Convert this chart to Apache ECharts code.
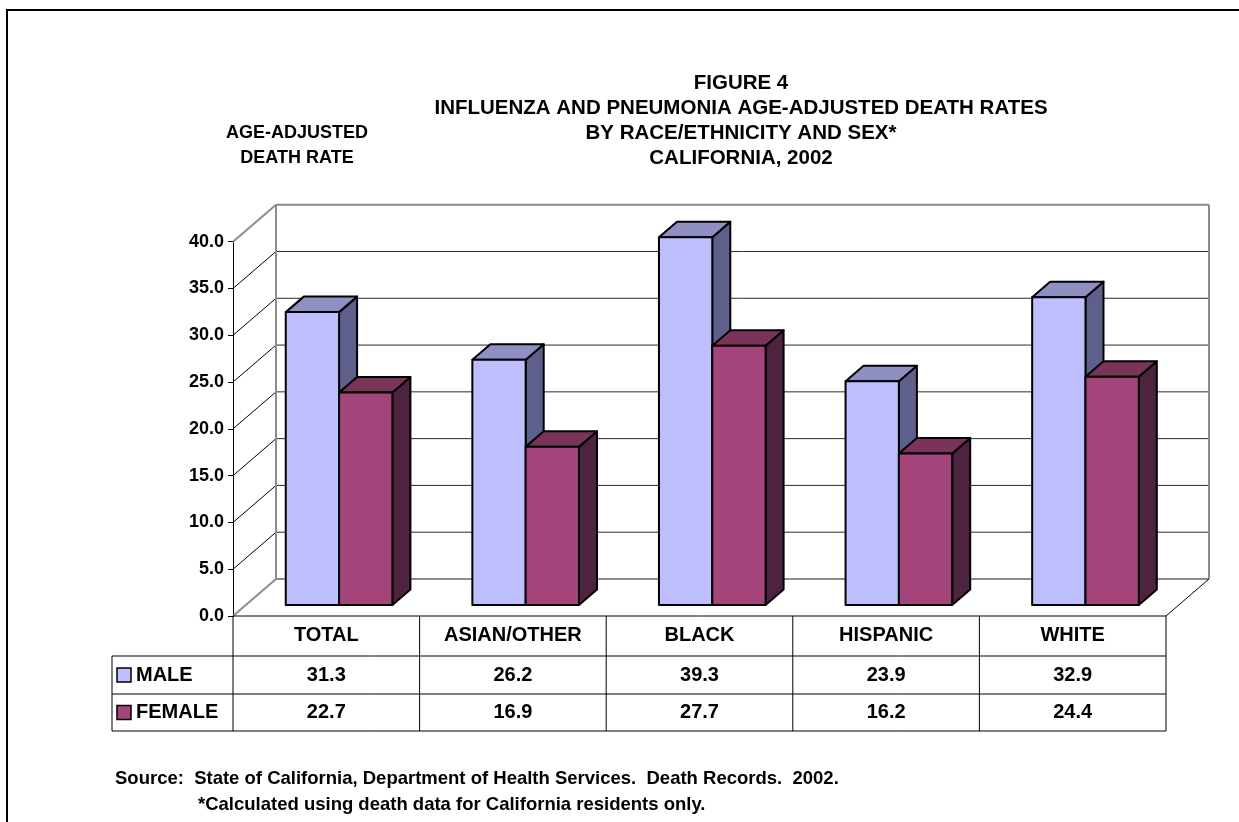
<!DOCTYPE html>
<html><head><meta charset="utf-8">
<script src="https://cdn.jsdelivr.net/npm/echarts@6/dist/echarts.min.js"></script>
<style>html,body{margin:0;padding:0;background:#fff}#c{width:1239px;height:822px}</style>
</head><body><div id="c"></div>
<script>
const categories = ['TOTAL', 'ASIAN/OTHER', 'BLACK', 'HISPANIC', 'WHITE'];
const maleValues = [31.3, 26.2, 39.3, 23.9, 32.9];
const femaleValues = [22.7, 16.9, 27.7, 16.2, 24.4];
const seriesNames = ['MALE', 'FEMALE'];
const yTicks = [0, 5, 10, 15, 20, 25, 30, 35, 40];
const titleLines = ['FIGURE 4', 'INFLUENZA AND PNEUMONIA AGE-ADJUSTED DEATH RATES', 'BY RACE/ETHNICITY AND SEX*', 'CALIFORNIA, 2002'];
const yAxisTitle = ['AGE-ADJUSTED', 'DEATH RATE'];
const sourceLines = ['Source:  State of California, Department of Health Services.  Death Records.  2002.', '*Calculated using death data for California residents only.'];

const FONT = '"Liberation Sans", Arial, sans-serif';
const DX = 43, DY = 37, D0 = 0.297, D1 = 0.716;
const MALE_C = {front: '#BFBFFF', top: '#8F8FC4', side: '#5F5F8C'};
const FEMALE_C = {front: '#A3457B', top: '#7B3459', side: '#4E2340'};

function wallsRender(params, api) {
  const cs = params.coordSys;
  const xL = cs.x, xR = cs.x + cs.width;
  const ch = [];
  const last = yTicks[yTicks.length - 1];
  yTicks.forEach(v => {
    const y = api.coord([0, v])[1];
    const edge = (v === 0 || v === last);
    ch.push({type: 'line', shape: {x1: xL, y1: y, x2: xL + DX, y2: y - DY},
      style: {stroke: edge ? '#8c8c8c' : '#000', lineWidth: edge ? 2 : 1}});
    ch.push({type: 'line', shape: {x1: xL + DX, y1: y - DY, x2: xR + DX, y2: y - DY},
      style: {stroke: edge ? '#8c8c8c' : '#2a2a2a', lineWidth: edge ? 2 : 1}});
  });
  const y0 = api.coord([0, 0])[1], yT = api.coord([0, last])[1];
  ch.push({type: 'line', shape: {x1: xL + DX, y1: y0 - DY, x2: xL + DX, y2: yT - DY}, style: {stroke: '#8c8c8c', lineWidth: 2}});
  ch.push({type: 'line', shape: {x1: xR + DX, y1: y0 - DY, x2: xR + DX, y2: yT - DY}, style: {stroke: '#8c8c8c', lineWidth: 2}});
  ch.push({type: 'line', shape: {x1: xR, y1: y0, x2: xR + DX, y2: y0 - DY}, style: {stroke: '#000', lineWidth: 1}});
  return {type: 'group', children: ch};
}

function barRender(isFemale, colors) {
  return function (params, api) {
    const i = api.value(0), v = api.value(1);
    const band = api.size([1, 0])[0];
    const w = band / 3.5;
    const base = api.coord([i, 0]);
    const top = api.coord([i, v]);
    const cx = base[0] + D0 * DX;
    const yb = base[1] - D0 * DY, yt = top[1] - D0 * DY;
    const xl = isFemale ? cx : cx - w, xr = xl + w;
    const ddx = (D1 - D0) * DX, ddy = (D1 - D0) * DY;
    const st = {stroke: '#000', lineWidth: 2, lineJoin: 'round'};
    return {type: 'group', children: [
      {type: 'polygon', shape: {points: [[xr, yt], [xr + ddx, yt - ddy], [xr + ddx, yb - ddy], [xr, yb]]}, style: Object.assign({fill: colors.side}, st)},
      {type: 'polygon', shape: {points: [[xl, yt], [xl + ddx, yt - ddy], [xr + ddx, yt - ddy], [xr, yt]]}, style: Object.assign({fill: colors.top}, st)},
      {type: 'rect', shape: {x: xl, y: yt, width: w, height: yb - yt}, style: Object.assign({fill: colors.front}, st)}
    ]};
  };
}

function txt(text, x, y, size, align) {
  return {type: 'text', style: {text: text, x: x, y: y, align: align || 'center', verticalAlign: 'middle',
    fontSize: size, fontWeight: 'bold', fontFamily: FONT, fill: '#000'}};
}
function ln(x1, y1, x2, y2) {
  return {type: 'line', shape: {x1: x1, y1: y1, x2: x2, y2: y2}, style: {stroke: '#000', lineWidth: 1}};
}

function tableRender(params, api) {
  const cs = params.coordSys;
  const xL = cs.x, xR = cs.x + cs.width;
  const i = api.value(0);
  const band = api.size([1, 0])[0];
  const c = api.coord([i, 0]);
  const y0 = c[1];
  const r1 = y0 + 40, r2 = y0 + 78, r3 = y0 + 115;
  const ch = [];
  ch.push(ln(c[0] + band / 2, y0, c[0] + band / 2, r3));
  ch.push(txt(categories[i], c[0], y0 + 19, 20));
  ch.push(txt(maleValues[i].toFixed(1), c[0], (r1 + r2) / 2, 20));
  ch.push(txt(femaleValues[i].toFixed(1), c[0], (r2 + r3) / 2, 20));
  if (i === 0) {
    const lx = xL - 121;
    ch.push(ln(xL, y0, xR, y0));
    ch.push(ln(lx, r1, xR, r1));
    ch.push(ln(lx, r2, xR, r2));
    ch.push(ln(lx, r3, xR, r3));
    ch.push(ln(lx, r1, lx, r3));
    ch.push(ln(xL, y0, xL, r3));
    const rows = [[(r1 + r2) / 2, MALE_C.front, seriesNames[0]], [(r2 + r3) / 2, FEMALE_C.front, seriesNames[1]]];
    rows.forEach(r => {
      ch.push({type: 'rect', shape: {x: lx + 5, y: r[0] - 7, width: 14, height: 14}, style: {fill: r[1], stroke: '#000', lineWidth: 1.5}});
      ch.push(txt(r[2], lx + 24, r[0], 20, 'left'));
    });
  }
  return {type: 'group', children: ch};
}

const graphics = [
  {type: 'rect', shape: {x: 7, y: 10, width: 1300, height: 900}, style: {fill: 'none', stroke: '#000', lineWidth: 2}, silent: true}
];
const titleY = [83, 108, 133, 158];
titleLines.forEach((t, k) => graphics.push(Object.assign(txt(t, 741, titleY[k], 20.5), {silent: true})));
const axisTitleY = [133, 158];
yAxisTitle.forEach((t, k) => graphics.push(Object.assign(txt(t, 297, axisTitleY[k], 18), {silent: true})));
graphics.push(Object.assign(txt(sourceLines[0], 115, 779, 18.5, 'left'), {silent: true}));
graphics.push(Object.assign(txt(sourceLines[1], 198, 805, 18.5, 'left'), {silent: true}));

const chart = echarts.init(document.getElementById('c'));
chart.setOption({
  animation: false,
  backgroundColor: '#fff',
  grid: {left: 233, top: 241.7, width: 933, height: 374.3},
  xAxis: {type: 'category', data: categories, axisLine: {show: false}, axisTick: {show: false}, axisLabel: {show: false}, splitLine: {show: false}},
  yAxis: {type: 'value', min: 0, max: 40, interval: 5,
    axisLine: {show: true, lineStyle: {color: '#000', width: 1}},
    axisTick: {show: true, length: 5, lineStyle: {color: '#000', width: 1}},
    axisLabel: {margin: 9, color: '#000', fontSize: 18, fontWeight: 'bold', fontFamily: FONT, formatter: v => v.toFixed(1)},
    splitLine: {show: false}},
  graphic: graphics,
  series: [
    {type: 'custom', name: 'walls', silent: true, z: 1, renderItem: wallsRender, data: [[0, 0]], clip: false},
    {type: 'custom', name: seriesNames[0], z: 3, renderItem: barRender(false, MALE_C), data: maleValues.map((v, i) => [i, v]), clip: false},
    {type: 'custom', name: seriesNames[1], z: 4, renderItem: barRender(true, FEMALE_C), data: femaleValues.map((v, i) => [i, v]), clip: false},
    {type: 'custom', name: 'table', silent: true, z: 5, renderItem: tableRender, data: categories.map((c, i) => [i, 0]), clip: false}
  ]
});
</script>
</body></html>
